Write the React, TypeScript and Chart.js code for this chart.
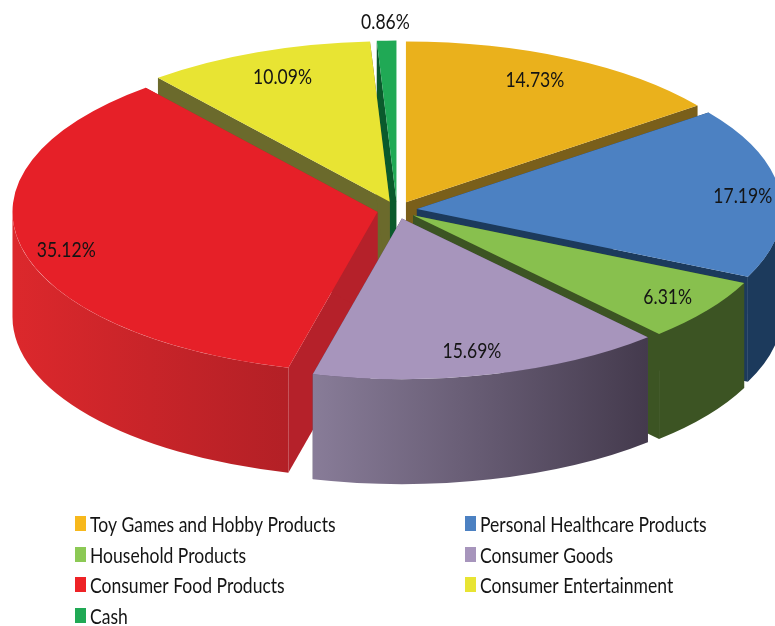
import React, { useEffect, useRef } from "react";
import { Chart, registerables } from "chart.js";

Chart.register(...registerables);

const categories = [
  "Toy Games and Hobby Products",
  "Personal Healthcare Products",
  "Household Products",
  "Consumer Goods",
  "Consumer Food Products",
  "Consumer Entertainment",
  "Cash",
];
const shares = [14.73, 17.19, 6.31, 15.69, 35.12, 10.09, 0.86];
const topColors = ["#EAB11C", "#4C81C2", "#88C04E", "#A795BC", "#E62028", "#E8E433", "#20A955"];
const legendColors = ["#F7B81C", "#4C81C2", "#8CC955", "#A795BC", "#EE2226", "#E8E433", "#20A955"];
const cutColors = ["#7A5F1A", "#1C3A5C", "#3C5423", "#4A4055", "#B5212A", "#6B6A2C", "#0A5A2C"];
const wallLeft = ["#7A5F1A", "#1C3A5C", "#3C5423", "#887C98", "#DC282C", "#6B6A2C", "#0A5A2C"];
const wallRight = ["#7A5F1A", "#1C3A5C", "#3C5423", "#443A4D", "#B32026", "#6B6A2C", "#0A5A2C"];
const labelRadii = [0.89, 0.951, 0.92, 0.905, 0.94, 0.885, 1.17];
const labelTurnDeg = [-1.4, 1, 0, 1, -2.8, 0.5, 0];

const W = 775;
const H = 626;
const CX = 397;
const CY = 210;
const RX = 365;
const TILT = 0.44;
const DEPTH = 105;
const EXPLODE = 20;
const FONT = '21px Lato, "Open Sans", sans-serif';
const NARROW = 0.835;

const text = (ctx: any, s: string, x: number, y: number) => {
  ctx.save();
  ctx.translate(x, y);
  ctx.scale(NARROW, 1);
  ctx.fillText(s, 0, 0);
  ctx.restore();
};

const pie3d = {
  id: "pie3d",
  beforeDatasetsDraw(chart: any) {
    const ctx = chart.ctx;
    const arcs = chart.getDatasetMeta(0).data;
    const ry = RX * TILT;
    const offs = arcs.map((a: any) => {
      const mid = (a.startAngle + a.endAngle) / 2;
      return { mid, ox: CX + Math.cos(mid) * EXPLODE, oy: CY + Math.sin(mid) * EXPLODE * TILT };
    });
    const order = arcs
      .map((_: any, i: number) => i)
      .sort((a: number, b: number) => Math.sin(offs[a].mid) - Math.sin(offs[b].mid));
    ctx.save();
    for (const i of order) {
      const a = arcs[i];
      const { ox, oy } = offs[i];
      ctx.fillStyle = cutColors[i];
      for (const ang of [a.startAngle, a.endAngle]) {
        const px = ox + Math.cos(ang) * RX;
        const py = oy + Math.sin(ang) * ry;
        ctx.beginPath();
        ctx.moveTo(ox, oy);
        ctx.lineTo(px, py);
        ctx.lineTo(px, py + DEPTH);
        ctx.lineTo(ox, oy + DEPTH);
        ctx.closePath();
        ctx.fill();
      }
      const s = Math.max(a.startAngle, 0);
      const e = Math.min(a.endAngle, Math.PI);
      if (e > s) {
        const x0 = ox + Math.cos(e) * RX;
        const x1 = ox + Math.cos(s) * RX;
        const g = ctx.createLinearGradient(x0, 0, x1, 0);
        g.addColorStop(0, wallLeft[i]);
        g.addColorStop(1, wallRight[i]);
        ctx.fillStyle = g;
        ctx.beginPath();
        ctx.ellipse(ox, oy, RX, ry, 0, s, e, false);
        ctx.ellipse(ox, oy + DEPTH, RX, ry, 0, e, s, true);
        ctx.closePath();
        ctx.fill();
      }
    }
    ctx.restore();
    arcs.forEach((a: any, i: number) => {
      const sx = RX / a.outerRadius;
      ctx.save();
      ctx.translate(offs[i].ox, offs[i].oy);
      ctx.scale(sx, sx * TILT);
      ctx.translate(-a.x, -a.y);
      a.draw(ctx);
      ctx.restore();
    });
    return false;
  },
  afterDraw(chart: any) {
    const ctx = chart.ctx;
    const arcs = chart.getDatasetMeta(0).data;
    ctx.save();
    ctx.font = FONT;
    ctx.fillStyle = "#141414";
    ctx.textBaseline = "middle";
    ctx.textAlign = "center";
    arcs.forEach((a: any, i: number) => {
      const mid = (a.startAngle + a.endAngle) / 2 + (labelTurnDeg[i] * Math.PI) / 180;
      const r = labelRadii[i] * RX;
      text(ctx, shares[i].toFixed(2) + "%", CX + Math.cos(mid) * r, CY + Math.sin(mid) * r * TILT);
    });
    ctx.textAlign = "left";
    categories.forEach((name, i) => {
      const col = i % 2;
      const rowY = [524, 555, 585, 616][Math.floor(i / 2)];
      const x = col === 0 ? 75 : 465;
      ctx.fillStyle = legendColors[i];
      ctx.fillRect(x, rowY - 8, 11, 15);
      ctx.fillStyle = "#141414";
      text(ctx, name, x + 15, rowY + 1);
    });
    ctx.restore();
  },
};

export default function App() {
  const ref = useRef<HTMLCanvasElement>(null);
  useEffect(() => {
    document.body.style.margin = "0";
    const chart = new Chart(ref.current!, {
      type: "pie",
      data: {
        labels: categories,
        datasets: [{ data: shares, backgroundColor: topColors, borderWidth: 0 }],
      },
      options: {
        responsive: false,
        animation: false,
        layout: { padding: 0 },
        plugins: { legend: { display: false }, tooltip: { enabled: false } },
      },
      plugins: [pie3d],
    } as any);
    return () => chart.destroy();
  }, []);
  return <canvas ref={ref} width={W} height={H} style={{ display: "block" }} />;
}
